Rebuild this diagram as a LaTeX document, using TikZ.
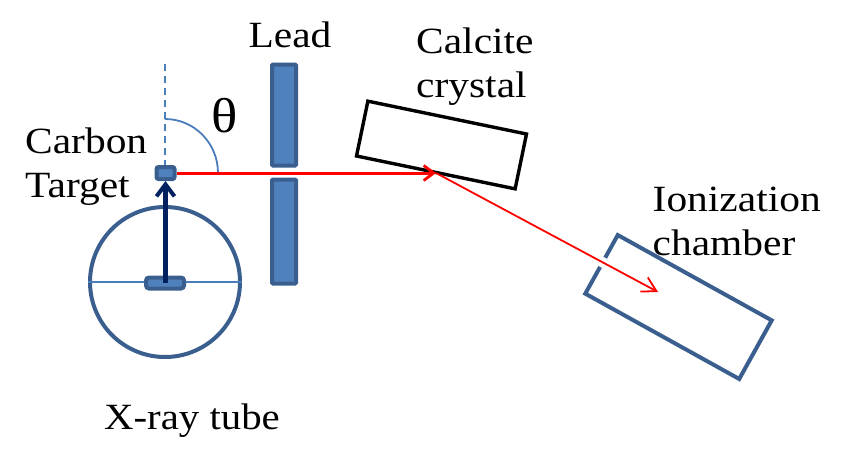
\documentclass[tikz,border=0pt]{standalone}
\usepackage{fontspec}
\setmainfont[FakeStretch=1.12]{Liberation Serif}
\usetikzlibrary{arrows.meta}
\definecolor{boxfill}{HTML}{4F81BD}
\definecolor{boxedge}{HTML}{3A5F8F}
\definecolor{thinblue}{HTML}{4A7EBB}
\definecolor{navy}{HTML}{002060}
\tikzset{
  x=1pt,y=-1pt,
  solidbox/.style={draw=boxedge,fill=boxfill,line width=4pt,rounded corners=1pt,inner sep=0pt,minimum width=#1},
  label/.style={font=\fontsize{37}{44}\selectfont,align=left,inner sep=0pt,text=black},
  thinline/.style={draw=thinblue,line width=1.8pt}
}
\begin{document}
\begin{tikzpicture}
\useasboundingbox (0,0) rectangle (862,466);
% X-ray tube
\node[draw=boxedge,line width=4pt,circle,minimum size=150pt,inner sep=0pt] (tube) at (165,282) {};
\draw[thinline] (tube.west) -- (tube.east);
% dashed axis and angle
\coordinate (axistop) at (165,64);
\node[solidbox=18pt,minimum height=12pt,rounded corners=2pt] (target) at (165.5,173) {};
\draw[thinline,dash pattern=on 7pt off 5pt] (axistop) -- (axistop |- target.north);
\coordinate (arcstart) at (165,119);
\draw[thinline] (arcstart) arc[start angle=90,end angle=0,x radius=53pt,y radius=54pt];
% cathode
\node[solidbox=38pt,minimum height=11pt,rounded corners=3pt] (cathode) at (165,283) {};
% lead
\node[solidbox=24pt,minimum height=101pt] (leadtop) at (284,115) {};
\node[solidbox=24pt,minimum height=104pt] (leadbot) at (284,231.5) {};
% crystal and chamber
\node[draw=black,line width=3.4pt,minimum width=162pt,minimum height=56pt,inner sep=0pt,rotate=-11.7] (crystal) at (441.5,145) {};
\node[draw=boxedge,line width=4pt,minimum width=176pt,minimum height=67pt,inner sep=0pt,rotate=-29] (chamber) at (678.5,307) {};
\coordinate (hit) at (436,173);
\coordinate (end) at (658,292);
\coordinate (gapa) at (605.5,258);
\coordinate (gapb) at (600.5,267);
\draw[white,line width=6pt] (gapa) -- (gapb);
% arrows
\draw[-{Straight Barb[length=12pt,width=18pt,line width=4pt]},navy,line width=4.4pt] (cathode.center -| target.south) -- (target.south);
\draw[-{Straight Barb[length=10pt,width=15pt,line width=2.8pt]},red,line width=3pt] (target.east) -- (hit);
\draw[-{Straight Barb[length=14pt,width=16pt,line width=1.8pt]},red,line width=1.8pt] (hit) -- (end);
% labels
\node[label] (leadlabel) at (290,35) {Lead};
\node[label,anchor=west] (calcite) at (416,67) {Calcite\\crystal};
\node[label,anchor=west] (carbon) at (25,167) {Carbon\\Target};
\node[label,anchor=west] (ion) at (652.5,221) {Ionization\\chamber};
\node[label,xscale=.985] (tubelabel) at (192,421) {X-ray tube};
\node[font=\fontsize{49}{52}\selectfont,inner sep=0pt] (theta) at (225,116) {θ};
\end{tikzpicture}
\end{document}
